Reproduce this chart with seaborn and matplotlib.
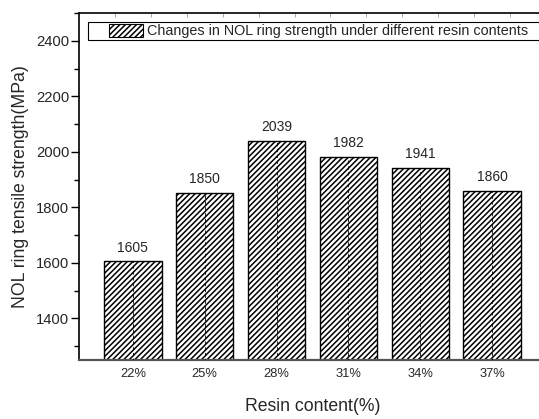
import numpy as np
import pandas as pd
import matplotlib
matplotlib.use("Agg")
import matplotlib.pyplot as plt
import seaborn as sns
from matplotlib.patches import Patch, Rectangle
from matplotlib.legend_handler import HandlerPatch
from matplotlib.ticker import MultipleLocator, FixedLocator

resin = ['22%', '25%', '28%', '31%', '34%', '37%']
strength = [1605, 1850, 2039, 1982, 1941, 1860]
legend_label = "Changes in NOL ring strength under different resin contents"

sns.set_theme(style="ticks")
plt.rcParams['font.family'] = ['Liberation Sans', 'DejaVu Sans']
plt.rcParams['hatch.linewidth'] = 1.1

df = pd.DataFrame({'resin': resin, 'strength': strength})

fig = plt.figure(figsize=(5.39, 4.19), dpi=100)
ax = fig.add_axes([0.1466, 0.1408, 0.8664, 0.8282])

sns.barplot(data=df, x='resin', y='strength', color='white', saturation=1,
            edgecolor='black', linewidth=1, width=0.8, ax=ax)
for p in ax.patches:
    p.set_hatch('//////')
    # dashed centre line of each bar
    xc = p.get_x() + p.get_width() / 2
    ax.vlines(xc, 0, p.get_height(), colors='black', linestyles=(0, (4, 3)),
              linewidth=0.6, zorder=3)

ax.bar_label(ax.containers[0], padding=5, fontsize=10)

ax.set_xlim(-0.75, 5.75)
ax.set_ylim(1250, 2500)
ax.yaxis.set_major_locator(MultipleLocator(200))
ax.yaxis.set_minor_locator(MultipleLocator(100))
ax.tick_params(axis='y', which='major', direction='out', length=6, width=1,
               labelsize=10.6, pad=1, color='black')
ax.tick_params(axis='y', which='minor', direction='out', length=3.5, width=1,
               color='black')
ax.tick_params(axis='x', which='major', length=0, labelsize=9.3, pad=6)

# faint ticks along the top spine
ax.xaxis.set_minor_locator(FixedLocator(np.arange(-0.25, 6, 0.5)))
ax.tick_params(axis='x', which='minor', top=True, bottom=False, direction='in',
               length=3, width=0.6, color='#999999')

ax.set_xlabel("Resin content(%)", fontsize=12.7, labelpad=13)
ax.set_ylabel("NOL ring tensile strength(MPa)", fontsize=12.7, labelpad=5)

ax.spines['right'].set_visible(False)
ax.spines['left'].set_color('black')
ax.spines['left'].set_linewidth(1.2)
ax.spines['top'].set_color('black')
ax.spines['top'].set_linewidth(1.2)
ax.spines['bottom'].set_color('#555555')
ax.spines['bottom'].set_linewidth(1.6)


# legend swatch sits a bit to the right inside its box, like the original
def offset_patch(legend, orig_handle, xdescent, ydescent, width, height, fontsize):
    off = width * 0.36
    return Rectangle((-xdescent + off, -ydescent), width - off, height)


handle = Patch(facecolor='white', edgecolor='black', hatch='//////', linewidth=0.8)
leg = ax.legend([handle], [legend_label], loc='upper left', mode='expand',
                bbox_to_anchor=(0.019, 0.974, 0.981, 0), borderaxespad=0,
                borderpad=0.12, handlelength=3.7, handleheight=1.0,
                handletextpad=0.28, fontsize=10.4, fancybox=False, framealpha=1,
                edgecolor='black',
                handler_map={Patch: HandlerPatch(patch_func=offset_patch)})
leg.get_frame().set_linewidth(0.8)

fig.savefig("out.png", dpi=100)
